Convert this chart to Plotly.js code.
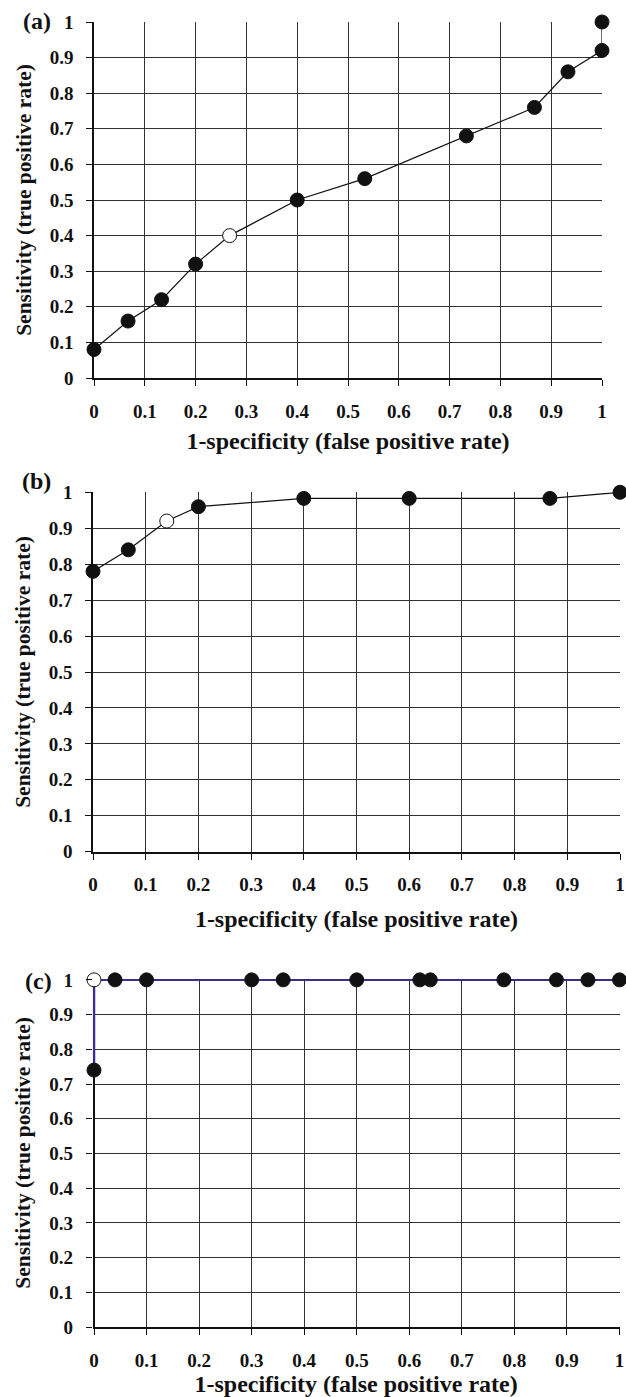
<!DOCTYPE html>
<html>
<head>
<meta charset="utf-8">
<script src="https://cdn.plot.ly/plotly-3.0.1.min.js"></script>
<style>html,body{margin:0;padding:0;background:#fff;}#chart{width:626px;height:1397px;}</style>
</head>
<body>
<div id="chart"></div>
<script>
// ---- Data ----
const panelLabels = ['(a)', '(b)', '(c)'];
const xTitle = '1-specificity (false positive rate)';
const yTitle = 'Sensitivity (true positive rate)';
const tickVals = [0, 0.1, 0.2, 0.3, 0.4, 0.5, 0.6, 0.7, 0.8, 0.9, 1];
const tickText = ['0', '0.1', '0.2', '0.3', '0.4', '0.5', '0.6', '0.7', '0.8', '0.9', '1'];

// Panel (a)
const aFpr = [0, 0.067, 0.133, 0.2, 0.267, 0.4, 0.533, 0.733, 0.867, 0.933, 1, 1];
const aTpr = [0.08, 0.16, 0.22, 0.32, 0.40, 0.50, 0.56, 0.68, 0.76, 0.86, 0.92, 1];
const aOptimal = 4;   // index of the open (optimal cut-off) point

// Panel (b)
const bFpr = [0, 0.067, 0.14, 0.2, 0.4, 0.6, 0.867, 1];
const bTpr = [0.78, 0.84, 0.92, 0.96, 0.983, 0.983, 0.983, 1];
const bOptimal = 2;

// Panel (c)
const cFpr = [0, 0, 0.04, 0.1, 0.3, 0.36, 0.5, 0.62, 0.64, 0.78, 0.88, 0.94, 1];
const cTpr = [0.74, 1, 1, 1, 1, 1, 1, 1, 1, 1, 1, 1, 1];
const cOptimal = 1;

// ---- Styling ----
const FONT = 'Liberation Serif, Times New Roman, serif';
const W = 626, H = 1397;
function px2x(p) { return p / W; }
function px2y(p) { return 1 - p / H; }

function markerColors(n, opt) {
  const c = [];
  for (let i = 0; i < n; i++) c.push(i === opt ? '#ffffff' : '#111111');
  return c;
}

function trace(x, y, opt, axisIdx, lineColor, lineWidth) {
  const sfx = axisIdx === 1 ? '' : String(axisIdx);
  return {
    type: 'scatter', mode: 'lines+markers',
    x: x, y: y,
    xaxis: 'x' + sfx, yaxis: 'y' + sfx,
    line: {color: lineColor, width: lineWidth},
    marker: {size: 14, color: markerColors(x.length, opt), line: {color: '#111111', width: 1}},
    cliponaxis: false,
    showlegend: false,
    hoverinfo: 'x+y'
  };
}

const data = [
  trace(aFpr, aTpr, aOptimal, 1, '#111111', 1.2),
  trace(bFpr, bTpr, bOptimal, 2, '#111111', 1.2),
  trace(cFpr, cTpr, cOptimal, 3, '#3a2f90', 2.5)
];

function xAxis(domain, anchor, standoff, range) {
  return {
    domain: domain, anchor: anchor, range: range || [0, 1], fixedrange: true,
    tickmode: 'array', tickvals: tickVals, ticktext: tickText,
    ticks: 'outside', ticklen: 6, tickwidth: 1, tickcolor: '#111',
    ticklabelstandoff: 9,
    showgrid: true, gridcolor: '#333333', gridwidth: 1,
    showline: true, linecolor: '#111', linewidth: 1.8,
    zeroline: false,
    tickfont: {family: FONT, size: 19, color: '#111', weight: 'bold'},
    title: {text: xTitle, standoff: standoff, font: {family: FONT, size: 24, color: '#111', weight: 'bold'}}
  };
}
function yAxis(domain, anchor, range) {
  return {
    domain: domain, anchor: anchor, range: range || [0, 1], fixedrange: true,
    tickmode: 'array', tickvals: tickVals, ticktext: tickText,
    ticks: 'outside', ticklen: 6, tickwidth: 1, tickcolor: '#111',
    ticklabelstandoff: 9,
    showgrid: true, gridcolor: '#333333', gridwidth: 1,
    showline: true, linecolor: '#111', linewidth: 1.8,
    zeroline: false,
    tickfont: {family: FONT, size: 19, color: '#111', weight: 'bold'},
    title: {text: yTitle, standoff: 12, font: {family: FONT, size: 21.5, color: '#111', weight: 'bold'}}
  };
}

// panel (c): tiny range padding so the thick curve on the plot edges is not clipped
const xaxis3 = xAxis([px2x(92.7), px2x(619.5)], 'y3', 10, [-0.0025, 1]);
xaxis3.zeroline = true; xaxis3.zerolinecolor = '#111'; xaxis3.zerolinewidth = 1.8;
const yaxis3 = yAxis([px2y(1327), px2y(979)], 'x3', [0, 1.0025]);
yaxis3.showline = false;

const layout = {
  width: W, height: H,
  margin: {l: 0, r: 0, t: 0, b: 0, pad: 0},
  paper_bgcolor: '#ffffff', plot_bgcolor: '#ffffff',
  font: {family: FONT, color: '#111'},
  showlegend: false,
  xaxis:  xAxis([px2x(94), px2x(602)], 'y', 12),
  yaxis:  yAxis([px2y(378), px2y(22)], 'x'),
  xaxis2: xAxis([px2x(93), px2x(620)], 'y2', 16),
  yaxis2: yAxis([px2y(851.7), px2y(492.3)], 'x2'),
  xaxis3: xaxis3,
  yaxis3: yaxis3,
  annotations: [
    {text: panelLabels[0], x: px2x(37), y: px2y(21), xref: 'paper', yref: 'paper', showarrow: false, xanchor: 'center', yanchor: 'middle', font: {family: FONT, size: 24, color: '#111', weight: 'bold'}},
    {text: panelLabels[1], x: px2x(36), y: px2y(481), xref: 'paper', yref: 'paper', showarrow: false, xanchor: 'center', yanchor: 'middle', font: {family: FONT, size: 24, color: '#111', weight: 'bold'}},
    {text: panelLabels[2], x: px2x(38), y: px2y(981), xref: 'paper', yref: 'paper', showarrow: false, xanchor: 'center', yanchor: 'middle', font: {family: FONT, size: 24, color: '#111', weight: 'bold'}}
  ]
};

Plotly.newPlot('chart', data, layout, {displayModeBar: false, staticPlot: true});
</script>
</body>
</html>
